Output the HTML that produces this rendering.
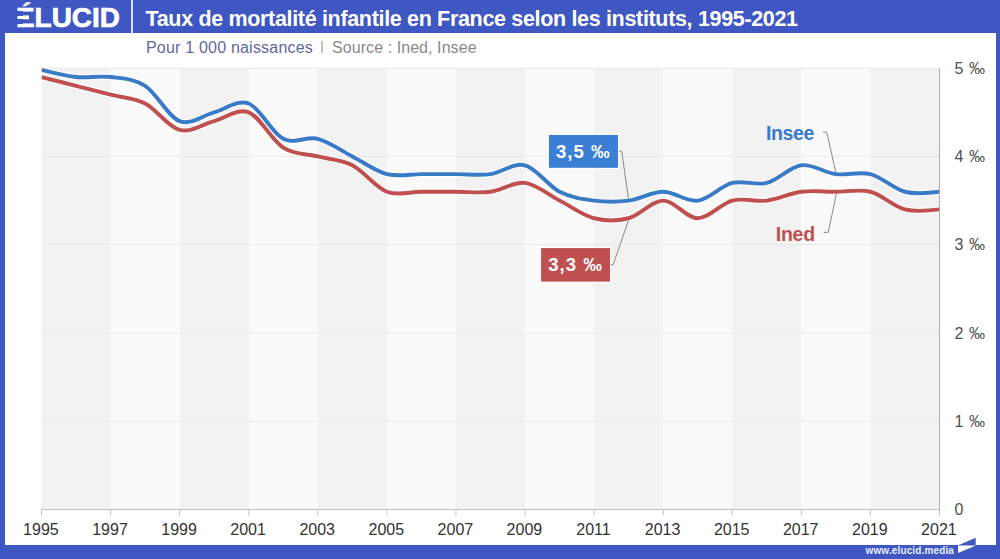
<!DOCTYPE html>
<html lang="fr"><head><meta charset="utf-8"><title>Taux de mortalité infantile en France</title>
<style>
html,body{margin:0;padding:0}
body{width:1000px;height:559px;overflow:hidden;position:relative;background:#3f57c2;font-family:"Liberation Sans",Arial,sans-serif}
.panel{position:absolute;left:4.5px;top:33.4px;width:991px;height:511.6px;background:#fff}
.logo{position:absolute;left:16px;top:2px;font-weight:bold;font-size:27.9px;line-height:32px;color:#fff;letter-spacing:0px;-webkit-text-stroke:0.7px #fff}
.lmask{position:absolute;background:#3f57c2}
.sep{position:absolute;left:131px;top:0;width:2px;height:33px;background:#d8defa}
.title{position:absolute;left:145.5px;top:4.5px;font-weight:bold;font-size:21.5px;line-height:28px;letter-spacing:-0.33px;color:#fff;white-space:nowrap}
.sub{position:absolute;top:37.7px;font-size:16px;line-height:20px;color:#8a8a8a;white-space:nowrap}
.sub.a{color:#5d68a0}
svg{position:absolute;left:0;top:0}
.yl{position:absolute;left:954.5px;font-size:16px;line-height:20px;color:#505050;white-space:nowrap;letter-spacing:0.6px}
.xl{position:absolute;top:519px;width:60px;text-align:center;font-size:16px;line-height:22px;color:#333}
.box{position:absolute;box-shadow:0 0 0 1px rgba(255,255,255,0.85);color:#fff;font-weight:bold;font-size:18.6px;line-height:33px;text-align:center;letter-spacing:1px;text-indent:0px}
.lab{position:absolute;font-weight:bold;font-size:19.5px;line-height:24px;white-space:nowrap}
.www{position:absolute;left:865.5px;top:544.7px;font-weight:bold;font-size:10px;line-height:12px;color:#e8ebfa;white-space:nowrap;letter-spacing:0.14px}
</style></head><body>
<div class="panel"></div>
<div class="logo">ÉLUCID</div>
<div class="sep"></div>
<div class="lmask" style="left:17px;top:11px;width:5.5px;height:5px"></div>
<div class="lmask" style="left:17px;top:19px;width:5.5px;height:5px"></div>
<div class="lmask" style="left:28.5px;top:15px;width:4px;height:5px"></div>
<div class="title">Taux de mortalité infantile en France selon les instituts, 1995-2021</div>
<div class="sub a" style="left:146px;letter-spacing:0.2px">Pour 1 000 naissances</div>
<div class="sub" style="left:320.3px;top:39px;font-size:13px;line-height:14px;color:#9a9a9a">|</div>
<div class="sub" style="left:332px;letter-spacing:0.07px">Source : Ined, Insee</div>
<svg width="1000" height="559" viewBox="0 0 1000 559">
<defs><clipPath id="plotclip"><rect x="41.5" y="65.2" width="898.0" height="444.3"/></clipPath></defs>
<rect x="41.50" y="68.20" width="69.08" height="441.30" fill="#f2f2f2"/>
<rect x="110.58" y="68.20" width="69.08" height="441.30" fill="#fafafa"/>
<rect x="179.65" y="68.20" width="69.08" height="441.30" fill="#f2f2f2"/>
<rect x="248.73" y="68.20" width="69.08" height="441.30" fill="#fafafa"/>
<rect x="317.81" y="68.20" width="69.08" height="441.30" fill="#f2f2f2"/>
<rect x="386.88" y="68.20" width="69.08" height="441.30" fill="#fafafa"/>
<rect x="455.96" y="68.20" width="69.08" height="441.30" fill="#f2f2f2"/>
<rect x="525.04" y="68.20" width="69.08" height="441.30" fill="#fafafa"/>
<rect x="594.12" y="68.20" width="69.08" height="441.30" fill="#f2f2f2"/>
<rect x="663.19" y="68.20" width="69.08" height="441.30" fill="#fafafa"/>
<rect x="732.27" y="68.20" width="69.08" height="441.30" fill="#f2f2f2"/>
<rect x="801.35" y="68.20" width="69.08" height="441.30" fill="#fafafa"/>
<rect x="870.42" y="68.20" width="69.08" height="441.30" fill="#f2f2f2"/>
<line x1="41.5" x2="939.5" y1="421.24" y2="421.24" stroke="#e7e7e7" stroke-width="1"/>
<line x1="41.5" x2="939.5" y1="332.98" y2="332.98" stroke="#e7e7e7" stroke-width="1"/>
<line x1="41.5" x2="939.5" y1="244.72" y2="244.72" stroke="#e7e7e7" stroke-width="1"/>
<line x1="41.5" x2="939.5" y1="156.46" y2="156.46" stroke="#e7e7e7" stroke-width="1"/>
<line x1="41.5" x2="939.5" y1="68.20" y2="68.20" stroke="#e7e7e7" stroke-width="1"/>
<line x1="41.5" x2="939.5" y1="509.5" y2="509.5" stroke="#c0c0c0" stroke-width="1"/>
<line x1="939.5" x2="939.5" y1="68.2" y2="509.5" stroke="#aeaeae" stroke-width="1"/>
<line x1="41.50" x2="41.50" y1="509.5" y2="515.5" stroke="#c0c0c0" stroke-width="1"/>
<line x1="110.58" x2="110.58" y1="509.5" y2="515.5" stroke="#c0c0c0" stroke-width="1"/>
<line x1="179.65" x2="179.65" y1="509.5" y2="515.5" stroke="#c0c0c0" stroke-width="1"/>
<line x1="248.73" x2="248.73" y1="509.5" y2="515.5" stroke="#c0c0c0" stroke-width="1"/>
<line x1="317.81" x2="317.81" y1="509.5" y2="515.5" stroke="#c0c0c0" stroke-width="1"/>
<line x1="386.88" x2="386.88" y1="509.5" y2="515.5" stroke="#c0c0c0" stroke-width="1"/>
<line x1="455.96" x2="455.96" y1="509.5" y2="515.5" stroke="#c0c0c0" stroke-width="1"/>
<line x1="525.04" x2="525.04" y1="509.5" y2="515.5" stroke="#c0c0c0" stroke-width="1"/>
<line x1="594.12" x2="594.12" y1="509.5" y2="515.5" stroke="#c0c0c0" stroke-width="1"/>
<line x1="663.19" x2="663.19" y1="509.5" y2="515.5" stroke="#c0c0c0" stroke-width="1"/>
<line x1="732.27" x2="732.27" y1="509.5" y2="515.5" stroke="#c0c0c0" stroke-width="1"/>
<line x1="801.35" x2="801.35" y1="509.5" y2="515.5" stroke="#c0c0c0" stroke-width="1"/>
<line x1="870.42" x2="870.42" y1="509.5" y2="515.5" stroke="#c0c0c0" stroke-width="1"/>
<line x1="939.50" x2="939.50" y1="509.5" y2="515.5" stroke="#c0c0c0" stroke-width="1"/>
<g clip-path="url(#plotclip)">
<path d="M41.50,77.03 C41.50,77.03 64.53,82.91 76.04,85.85 C87.55,88.79 99.06,91.74 110.58,94.68 C122.09,97.62 133.60,97.62 145.12,103.50 C156.63,109.39 168.14,127.04 179.65,129.98 C191.17,132.92 202.68,124.10 214.19,121.16 C225.71,118.21 237.22,107.92 248.73,112.33 C260.24,116.74 271.76,140.28 283.27,147.63 C294.78,154.99 306.29,153.52 317.81,156.46 C329.32,159.40 340.83,159.40 352.35,165.29 C363.86,171.17 375.37,187.35 386.88,191.76 C398.40,196.18 409.91,191.76 421.42,191.76 C432.94,191.76 444.45,191.76 455.96,191.76 C467.47,191.76 478.99,193.24 490.50,191.76 C502.01,190.29 513.53,181.47 525.04,182.94 C536.55,184.41 548.06,194.71 559.58,200.59 C571.09,206.47 582.60,215.30 594.12,218.24 C605.63,221.18 617.14,221.18 628.65,218.24 C640.17,215.30 651.68,200.59 663.19,200.59 C674.71,200.59 686.22,218.24 697.73,218.24 C709.24,218.24 720.76,203.53 732.27,200.59 C743.78,197.65 755.29,202.06 766.81,200.59 C778.32,199.12 789.83,193.24 801.35,191.76 C812.86,190.29 824.37,191.76 835.88,191.76 C847.40,191.76 858.91,188.82 870.42,191.76 C881.94,194.71 893.45,206.47 904.96,209.42 C916.47,212.36 939.50,209.42 939.50,209.42" fill="none" stroke="#fff" stroke-opacity="0.7" stroke-width="6.5"/>
<path d="M41.50,77.03 C41.50,77.03 64.53,82.91 76.04,85.85 C87.55,88.79 99.06,91.74 110.58,94.68 C122.09,97.62 133.60,97.62 145.12,103.50 C156.63,109.39 168.14,127.04 179.65,129.98 C191.17,132.92 202.68,124.10 214.19,121.16 C225.71,118.21 237.22,107.92 248.73,112.33 C260.24,116.74 271.76,140.28 283.27,147.63 C294.78,154.99 306.29,153.52 317.81,156.46 C329.32,159.40 340.83,159.40 352.35,165.29 C363.86,171.17 375.37,187.35 386.88,191.76 C398.40,196.18 409.91,191.76 421.42,191.76 C432.94,191.76 444.45,191.76 455.96,191.76 C467.47,191.76 478.99,193.24 490.50,191.76 C502.01,190.29 513.53,181.47 525.04,182.94 C536.55,184.41 548.06,194.71 559.58,200.59 C571.09,206.47 582.60,215.30 594.12,218.24 C605.63,221.18 617.14,221.18 628.65,218.24 C640.17,215.30 651.68,200.59 663.19,200.59 C674.71,200.59 686.22,218.24 697.73,218.24 C709.24,218.24 720.76,203.53 732.27,200.59 C743.78,197.65 755.29,202.06 766.81,200.59 C778.32,199.12 789.83,193.24 801.35,191.76 C812.86,190.29 824.37,191.76 835.88,191.76 C847.40,191.76 858.91,188.82 870.42,191.76 C881.94,194.71 893.45,206.47 904.96,209.42 C916.47,212.36 939.50,209.42 939.50,209.42" fill="none" stroke="#c0504f" stroke-width="3.9" stroke-linejoin="round" stroke-linecap="butt"/>
<path d="M41.50,69.97 C41.50,69.97 64.53,75.85 76.04,77.03 C87.55,78.20 99.06,75.55 110.58,77.03 C122.09,78.50 133.60,78.50 145.12,85.85 C156.63,93.21 168.14,116.74 179.65,121.16 C191.17,125.57 202.68,115.27 214.19,112.33 C225.71,109.39 237.22,99.09 248.73,103.50 C260.24,107.92 271.76,132.92 283.27,138.81 C294.78,144.69 306.29,135.87 317.81,138.81 C329.32,141.75 340.83,150.58 352.35,156.46 C363.86,162.34 375.37,171.17 386.88,174.11 C398.40,177.05 409.91,174.11 421.42,174.11 C432.94,174.11 444.45,174.11 455.96,174.11 C467.47,174.11 478.99,175.58 490.50,174.11 C502.01,172.64 513.53,162.34 525.04,165.29 C536.55,168.23 548.06,185.88 559.58,191.76 C571.09,197.65 582.60,199.12 594.12,200.59 C605.63,202.06 617.14,202.06 628.65,200.59 C640.17,199.12 651.68,191.76 663.19,191.76 C674.71,191.76 686.22,202.06 697.73,200.59 C709.24,199.12 720.76,185.88 732.27,182.94 C743.78,180.00 755.29,185.88 766.81,182.94 C778.32,180.00 789.83,166.76 801.35,165.29 C812.86,163.81 824.37,172.64 835.88,174.11 C847.40,175.58 858.91,171.17 870.42,174.11 C881.94,177.05 893.45,188.82 904.96,191.76 C916.47,194.71 939.50,191.76 939.50,191.76" fill="none" stroke="#fff" stroke-opacity="0.7" stroke-width="6.5"/>
<path d="M41.50,69.97 C41.50,69.97 64.53,75.85 76.04,77.03 C87.55,78.20 99.06,75.55 110.58,77.03 C122.09,78.50 133.60,78.50 145.12,85.85 C156.63,93.21 168.14,116.74 179.65,121.16 C191.17,125.57 202.68,115.27 214.19,112.33 C225.71,109.39 237.22,99.09 248.73,103.50 C260.24,107.92 271.76,132.92 283.27,138.81 C294.78,144.69 306.29,135.87 317.81,138.81 C329.32,141.75 340.83,150.58 352.35,156.46 C363.86,162.34 375.37,171.17 386.88,174.11 C398.40,177.05 409.91,174.11 421.42,174.11 C432.94,174.11 444.45,174.11 455.96,174.11 C467.47,174.11 478.99,175.58 490.50,174.11 C502.01,172.64 513.53,162.34 525.04,165.29 C536.55,168.23 548.06,185.88 559.58,191.76 C571.09,197.65 582.60,199.12 594.12,200.59 C605.63,202.06 617.14,202.06 628.65,200.59 C640.17,199.12 651.68,191.76 663.19,191.76 C674.71,191.76 686.22,202.06 697.73,200.59 C709.24,199.12 720.76,185.88 732.27,182.94 C743.78,180.00 755.29,185.88 766.81,182.94 C778.32,180.00 789.83,166.76 801.35,165.29 C812.86,163.81 824.37,172.64 835.88,174.11 C847.40,175.58 858.91,171.17 870.42,174.11 C881.94,177.05 893.45,188.82 904.96,191.76 C916.47,194.71 939.50,191.76 939.50,191.76" fill="none" stroke="#3a7bc8" stroke-width="3.9" stroke-linejoin="round" stroke-linecap="butt"/>
</g>
<polyline points="618,151.2 621.7,151.2 628.5,199" fill="none" stroke="#8a8a8a" stroke-width="1"/>
<polyline points="610,264.6 613.2,264.6 628.3,221" fill="none" stroke="#8a8a8a" stroke-width="1"/>
<polyline points="823,132.2 826.7,132.2 835.8,172" fill="none" stroke="#8a8a8a" stroke-width="1"/>
<polyline points="823.6,232.3 828.2,232.3 836.4,194" fill="none" stroke="#8a8a8a" stroke-width="1"/>
<rect x="548.5" y="134.8" width="69.5" height="33" fill="#3a7fd3"/>
<rect x="541.1" y="248.1" width="69" height="33.5" fill="#c0504f"/>
<polygon points="959,545 975.7,537.8 975.7,545" fill="#3f57c2"/>
<polygon points="958,545.5 976,545.5 958,553" fill="#fff"/>
</svg>
<div class="yl" style="top:58.7px">5 ‰</div><div class="yl" style="top:147.0px">4 ‰</div><div class="yl" style="top:235.2px">3 ‰</div><div class="yl" style="top:323.5px">2 ‰</div><div class="yl" style="top:411.7px">1 ‰</div><div class="yl" style="top:500.2px">0</div>
<div class="xl" style="left:10.9px">1995</div><div class="xl" style="left:80.0px">1997</div><div class="xl" style="left:149.1px">1999</div><div class="xl" style="left:218.1px">2001</div><div class="xl" style="left:287.2px">2003</div><div class="xl" style="left:356.3px">2005</div><div class="xl" style="left:425.4px">2007</div><div class="xl" style="left:494.4px">2009</div><div class="xl" style="left:563.5px">2011</div><div class="xl" style="left:632.6px">2013</div><div class="xl" style="left:701.7px">2015</div><div class="xl" style="left:770.7px">2017</div><div class="xl" style="left:839.8px">2019</div><div class="xl" style="left:908.9px">2021</div>
<div class="box" style="left:548.5px;top:134.8px;width:69.5px;height:33px">3,5 ‰</div>
<div class="box" style="left:541.1px;top:248.1px;width:69px;height:33.5px">3,3 ‰</div>
<div class="lab" style="left:766px;top:121.1px;color:#3a7bc8;letter-spacing:-0.4px">Insee</div>
<div class="lab" style="left:775.7px;top:221.6px;color:#c0504f;letter-spacing:-0.2px">Ined</div>
<div class="www">www.elucid.media</div>
</body></html>
